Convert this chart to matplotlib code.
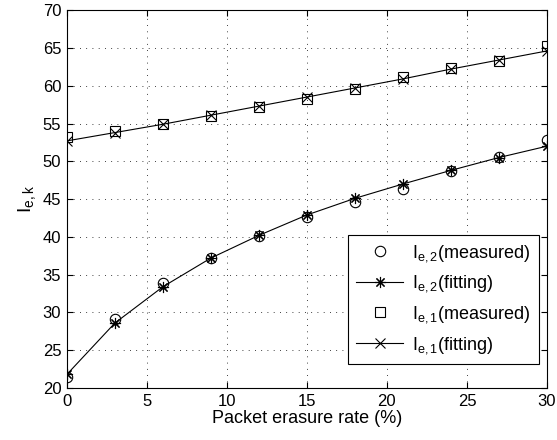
import matplotlib
matplotlib.use("Agg")
import matplotlib.pyplot as plt

plt.rcParams['font.family'] = ['Liberation Sans', 'DejaVu Sans']
plt.rcParams['mathtext.fontset'] = 'custom'
plt.rcParams['mathtext.rm'] = 'Liberation Sans'
plt.rcParams['mathtext.it'] = 'Liberation Sans'

erasure_rate = [0, 3, 6, 9, 12, 15, 18, 21, 24, 27, 30]
ie2_measured = [21.5, 29.1, 33.9, 37.2, 40.1, 42.6, 44.6, 46.4, 48.7, 50.6, 52.8]
ie2_fitting = [21.8, 28.6, 33.4, 37.2, 40.2, 42.9, 45.1, 47.0, 48.8, 50.5, 52.0]
ie1_measured = [53.2, 54.0, 54.9, 56.0, 57.2, 58.3, 59.6, 61.1, 62.3, 63.3, 65.3]
ie1_fitting = [52.7, 53.8, 54.9, 56.1, 57.3, 58.5, 59.7, 60.9, 62.2, 63.4, 64.6]

labels = [r'$\mathregular{I_{e,2}}$(measured)', r'$\mathregular{I_{e,2}}$(fitting)',
          r'$\mathregular{I_{e,1}}$(measured)', r'$\mathregular{I_{e,1}}$(fitting)']

fig = plt.figure(figsize=(5.57, 4.40), dpi=100)
ax = fig.add_axes([0.120, 0.118, 0.862, 0.859])

ax.plot(erasure_rate, ie2_measured, linestyle='none', marker='o', markersize=7.5,
        markerfacecolor='none', markeredgecolor='black', markeredgewidth=0.8, label=labels[0])
ax.plot(erasure_rate, ie2_fitting, color='black', linewidth=0.8, marker=(8, 2, 0), markersize=8,
        markeredgewidth=0.8, label=labels[1])
ax.plot(erasure_rate, ie1_measured, linestyle='none', marker='s', markersize=7.5,
        markerfacecolor='none', markeredgecolor='black', markeredgewidth=0.8, label=labels[2])
ax.plot(erasure_rate, ie1_fitting, color='black', linewidth=0.8, marker='x', markersize=6.5,
        markeredgewidth=0.8, label=labels[3])

ax.set_xlim(0, 30)
ax.set_ylim(20, 70)
ax.set_xticks(range(0, 31, 5))
ax.set_yticks(range(20, 71, 5))
ax.grid(True, linestyle=(0, (1, 6.5)), color='black', linewidth=0.6)
ax.tick_params(direction='in', top=True, right=True, labelsize=12, length=4, width=0.8, pad=4)
for s in ax.spines.values():
    s.set_linewidth(0.8)

ax.set_xlabel('Packet erasure rate (%)', fontsize=13, labelpad=1)
ax.set_ylabel(r'$\mathregular{I_{e,k}}$', fontsize=14, labelpad=3)

leg = ax.legend(loc='lower right', bbox_to_anchor=(0.983, 0.063), borderaxespad=0,
                fontsize=13, fancybox=False, edgecolor='black', framealpha=1,
                handlelength=2.6, labelspacing=0.55, handletextpad=0.5, borderpad=0.45)
leg.get_frame().set_linewidth(0.8)

fig.savefig('out.png', dpi=100)
